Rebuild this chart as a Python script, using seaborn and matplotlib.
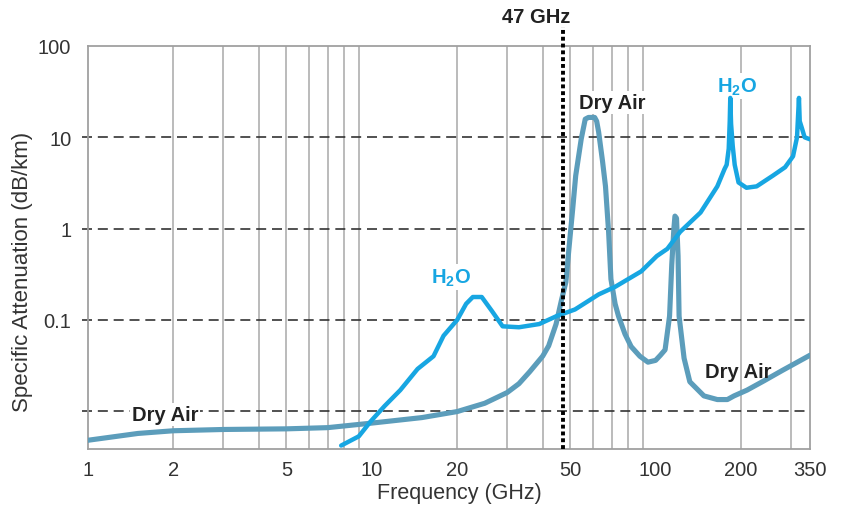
import matplotlib
matplotlib.use("Agg")
import matplotlib.pyplot as plt
import seaborn as sns
import pandas as pd

# Specific attenuation (dB/km) versus frequency (GHz)
freq_dry = [1.0, 1.5, 2, 3, 5, 7, 10, 15, 20, 25, 30, 33, 36, 40, 42, 44.6,
            46.5, 48.3, 49.5, 51, 52.3, 54.7, 56.5, 58, 61, 62, 63, 65, 66.6,
            68.3, 69.6, 72, 74, 78, 82, 88, 94, 100, 104, 108, 112, 114, 116,
            117, 118.5, 120, 121, 126, 132, 148, 165, 179, 189, 210, 241, 280,
            350]
atten_dry = [0.0048, 0.0057, 0.0061, 0.0063, 0.0064, 0.0066, 0.0074, 0.0085,
             0.0099, 0.0122, 0.016, 0.02, 0.027, 0.040, 0.052, 0.09,
             0.16, 0.26, 0.6, 1.6, 3.8, 9.6, 15.8, 16.5, 16.5, 15, 11.4, 5.5,
             2.9, 0.92, 0.28, 0.15, 0.11, 0.07, 0.051, 0.04, 0.0344, 0.036,
             0.041, 0.047, 0.11, 0.4, 1.0, 1.37, 1.3, 0.5, 0.11, 0.038, 0.021,
             0.0147, 0.0134, 0.0134, 0.0147, 0.017, 0.0215, 0.028, 0.041]

freq_h2o = [7.8, 9.0, 9.9, 11.1, 12.6, 14.5, 16.5, 17.9, 20, 21.5, 22.7, 24.4,
            26.5, 28.9, 33, 38.9, 44.8, 52, 63, 72, 89, 101, 110, 122, 144,
            165, 175, 178, 181, 182.5, 183.3, 184.5, 187, 190, 196, 209, 227,
            259, 286, 305, 315, 320, 322, 328, 335, 350]
atten_h2o = [0.0042, 0.0053, 0.0077, 0.0114, 0.017, 0.029, 0.040, 0.067, 0.10,
             0.15, 0.178, 0.178, 0.125, 0.085, 0.083, 0.09, 0.11, 0.13, 0.19,
             0.23, 0.34, 0.5, 0.6, 0.92, 1.5, 2.9, 4.5, 5.0, 7.5, 15, 27, 14,
             8, 5, 3.2, 2.8, 2.9, 3.8, 4.7, 6.2, 10, 27, 15, 12.5, 10, 9.5]

cutoff_ghz = 47

x_ticks = [1, 2, 5, 10, 20, 50, 100, 200, 350]
x_tick_labels = ["1", "2", "5", "10", "20", "50", "100", "200", "350"]
y_ticks = [0.1, 1, 10, 100]
y_tick_labels = ["0.1", "1", "10", "100"]
v_grid = [2, 3, 4, 5, 6, 7, 8, 9, 20, 30, 40, 50, 60, 70, 80, 90, 200, 300]
h_grid = [0.01, 0.1, 1, 10]

DRY = "#5c9dbb"
WATER = "#17a6e2"
TEXT = "#222222"

sns.set_style("white")
plt.rcParams["font.family"] = ["Liberation Sans", "DejaVu Sans"]
plt.rcParams["mathtext.fontset"] = "custom"
plt.rcParams["mathtext.rm"] = "Liberation Sans"
plt.rcParams["mathtext.bf"] = "Liberation Sans:bold"

fig = plt.figure(figsize=(8.42, 5.06), dpi=100)
ax = fig.add_axes([88 / 842, 1 - 450 / 506, 722 / 842, 403 / 506])
ax.set_xscale("log")
ax.set_yscale("log")
ax.set_xlim(1, 350)
ax.set_ylim(0.00385, 100)

# grid: solid verticals, dashed horizontals that poke past the left spine
for f in v_grid:
    ax.axvline(f, color="#a8a8a8", lw=1.1, zorder=1)
ax.hlines(h_grid, -0.008, 1, transform=ax.get_yaxis_transform(),
          colors="#333333", lw=1.2, linestyles=(0, (6, 3.5)), clip_on=False,
          zorder=1)

dry = pd.DataFrame({"freq": freq_dry, "atten": atten_dry})
h2o = pd.DataFrame({"freq": freq_h2o, "atten": atten_h2o})
sns.lineplot(data=dry, x="freq", y="atten", ax=ax, color=DRY, lw=3.7,
             estimator=None, sort=False, solid_capstyle="round",
             solid_joinstyle="round", zorder=3)
sns.lineplot(data=h2o, x="freq", y="atten", ax=ax, color=WATER, lw=3.2,
             estimator=None, sort=False, solid_capstyle="round",
             solid_joinstyle="round", zorder=4)

# 47 GHz marker
ax.axvline(cutoff_ghz, ymin=0, ymax=1.047, color="black", lw=2.8,
           linestyle=(0, (1, 0.75)), dash_capstyle="butt", clip_on=False,
           zorder=5)
ax.annotate(f"{cutoff_ghz} GHz", xy=(cutoff_ghz, 1),
            xycoords=("data", "axes fraction"), xytext=(-19, 21),
            textcoords="offset points", ha="center", va="center",
            fontsize=14.5, fontweight="bold", color=TEXT,
            annotation_clip=False)

box = dict(facecolor="white", edgecolor="none", pad=1.5)
ax.text(1.87, 0.0091, "Dry Air", fontsize=14.5, fontweight="bold",
        color=TEXT, ha="center", va="center", bbox=box, zorder=2)
ax.text(70.2, 24.3, "Dry Air", fontsize=14.5, fontweight="bold",
        color=TEXT, ha="center", va="center", bbox=box, zorder=2)
ax.text(195, 0.0269, "Dry Air", fontsize=14.5, fontweight="bold",
        color=TEXT, ha="center", va="center", zorder=6)
ax.text(193.6, 36.4, r"$\mathbf{H_2O}$", fontsize=14.5, color=WATER,
        ha="center", va="center", bbox=box, zorder=2)
ax.text(19.0, 0.295, r"$\mathbf{H_2O}$", fontsize=14.5, color=WATER,
        ha="center", va="center", bbox=box, zorder=2)

ax.set_xticks(x_ticks)
ax.set_xticklabels(x_tick_labels)
ax.set_yticks(y_ticks)
ax.set_yticklabels(y_tick_labels)
ax.minorticks_off()
ax.tick_params(axis="both", length=0, labelsize=14.5, labelcolor="#333333")
ax.tick_params(axis="x", pad=8)
ax.tick_params(axis="y", pad=12)

ax.set_xlabel("Frequency (GHz)", fontsize=15.5, color="#333333")
ax.set_ylabel("Specific Attenuation (dB/km)", fontsize=16, color="#333333")
ax.xaxis.set_label_coords(0.514, -0.082)
ax.yaxis.set_label_coords(-0.076, 0.442)

for s in ax.spines.values():
    s.set_color("#a0a0a0")
    s.set_linewidth(1.3)

fig.savefig("out.png", dpi=100, facecolor="white")
